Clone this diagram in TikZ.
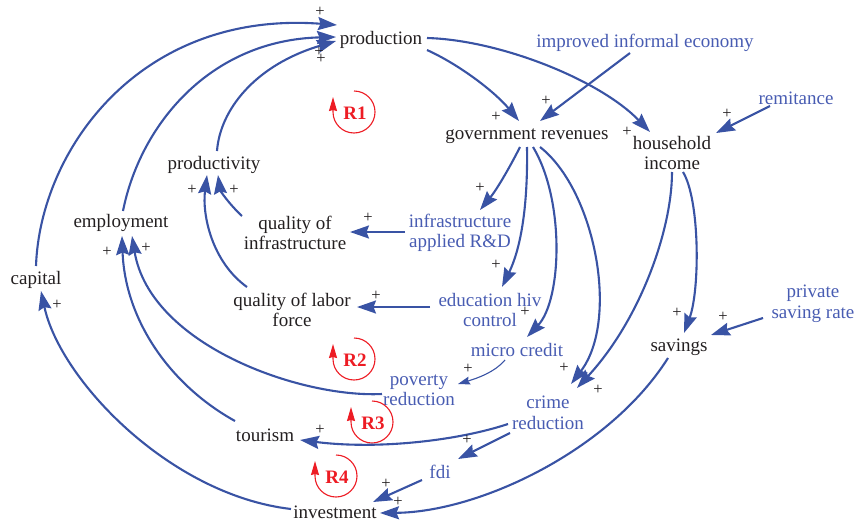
\documentclass[tikz,border=0pt]{standalone}
\usepackage{fontspec}
\setmainfont{Liberation Serif}
\usetikzlibrary{arrows.meta}
\definecolor{lineblue}{RGB}{57,83,164}
\definecolor{txtblue}{RGB}{72,92,178}
\definecolor{txtblack}{RGB}{35,31,32}
\definecolor{loopred}{RGB}{237,28,36}
\begin{document}
\begin{tikzpicture}[x=1pt,y=-1pt,
  var/.style={inner sep=0pt, align=center, font=\fontsize{19}{20.5}\selectfont, text=txtblack},
  bvar/.style={var, text=txtblue},
  pl/.style={inner sep=0pt, font=\fontsize{16.5}{16.5}\selectfont, text=txtblack},
  link/.style={draw=lineblue, line width=2.1pt, -{Stealth[length=19pt,width=13pt,inset=2.5pt]}},
  thinlink/.style={draw=lineblue, line width=1.1pt, -{Stealth[length=12pt,width=8pt,inset=1.5pt]}},
  looplbl/.style={inner sep=0pt, font=\fontsize{19}{19}\selectfont\bfseries, text=loopred},
  loopc/.style={draw=loopred, line width=1.1pt, -{Stealth[length=14pt,width=8pt,inset=1pt]}}
]
\useasboundingbox (0,0) rectangle (854,522);

% variables
\node[var]  (production)   at (381,40)  {production};
\node[bvar] (impinf)       at (645,43)  {improved informal economy};
\node[var]  (govrev)       at (527,136) {government revenues};
\node[var]  (household)    at (672,153) {household\\income};
\node[bvar] (remit)        at (796,98)  {remitance};
\node[var]  (productivity) at (214,165) {productivity};
\node[var]  (employment)   at (121,223) {employment};
\node[var]  (capital)      at (36,280)  {capital};
\node[var]  (qinfra)       at (295,233) {quality of\\infrastructure};
\node[bvar] (infraRD)      at (460,233) {infrastructure\\applied R\&D};
\node[var]  (qlabor)       at (292,310) {quality of labor\\force};
\node[bvar] (eduhiv)       at (490,310) {education hiv\\control};
\node[bvar] (micro)        at (517,350) {micro credit};
\node[bvar] (poverty)      at (419,390) {poverty\\reduction};
\node[bvar] (crime)        at (548,413) {crime\\reduction};
\node[var]  (savings)      at (679,347) {savings};
\node[bvar] (privsave)     at (813,304) {private\\saving rate};
\node[var]  (tourism)      at (265,435) {tourism};
\node[bvar] (fdi)          at (440,472) {fdi};
\node[var]  (investment)   at (335,512) {investment};

% loop labels
\node[looplbl] (R1) at (355,113) {R1};
\node[looplbl] (R2) at (355,360) {R2};
\node[looplbl] (R3) at (373,423) {R3};
\node[looplbl] (R4) at (337,477) {R4};
\foreach \r in {R1,R2,R3,R4}
  \draw[loopc] ([shift={(-1,-22)}]\r.center) arc[start angle=-90,end angle=180,radius=21] -- ++(0,-15);

% links
\draw[link] ([shift={(0,-14)}]capital.center) .. controls (40,150) and (140,10) .. ([shift={(-44,-15)}]production.center);
\draw[link] ([shift={(2,-12)}]employment.center) .. controls (140,125) and (210,40) .. ([shift={(-45,-3)}]production.center);
\draw[link] ([shift={(3,-14)}]productivity.center) .. controls (220,110) and (255,65) .. ([shift={(-45,1)}]production.center);
\draw[link] ([shift={(46,10)}]production.center) .. controls (460,65) and (495,92) .. ([shift={(-8,-15)}]govrev.center);
\draw[link] ([shift={(46,-2)}]production.center) .. controls (500,40) and (600,80) .. ([shift={(-22,-21)}]household.center);
\draw[link] ([shift={(-15,10)}]impinf.center) -- ([shift={(13,-15)}]govrev.center);
\draw[link] ([shift={(-26,8)}]remit.center) -- ([shift={(44,-20)}]household.center);
\draw[link] ([shift={(-53,-17)}]qinfra.center) .. controls (228,203) and (220,190) .. ([shift={(4,10)}]productivity.center);
\draw[link] ([shift={(-45,-23)}]qlabor.center) .. controls (212,262) and (202,215) .. ([shift={(-7,10)}]productivity.center);
\draw[link] ([shift={(-37,4)}]poverty.center) .. controls (300,398) and (150,345) .. ([shift={(11,13)}]employment.center);
\draw[link] ([shift={(-30,-14)}]tourism.center) .. controls (170,385) and (125,320) .. ([shift={(1,13)}]employment.center);
\draw[link] ([shift={(-44,-3)}]investment.center) .. controls (170,495) and (60,380) .. ([shift={(5,11)}]capital.center);
\draw[link] ([shift={(-7,11)}]govrev.center) .. controls (512,163) and (498,188) .. ([shift={(20,-23)}]infraRD.center);
\draw[link] ([shift={(0,11)}]govrev.center) .. controls (528,210) and (520,250) .. ([shift={(12,-23)}]eduhiv.center);
\draw[link] ([shift={(6,11)}]govrev.center) .. controls (565,200) and (562,300) .. ([shift={(10,-13)}]micro.center);
\draw[link] ([shift={(13,11)}]govrev.center) .. controls (595,190) and (620,320) .. ([shift={(23,-29)}]crime.center);
\draw[link] ([shift={(0,19)}]household.center) .. controls (672,230) and (640,320) .. ([shift={(29,-25)}]crime.center);
\draw[link] ([shift={(11,19)}]household.center) .. controls (700,200) and (700,290) .. ([shift={(5,-14)}]savings.center);
\draw[link] ([shift={(-50,14)}]privsave.center) -- ([shift={(32,-12)}]savings.center);
\draw[link] ([shift={(-11,11)}]savings.center) .. controls (610,450) and (480,512) .. ([shift={(45,1)}]investment.center);
\draw[link] ([shift={(-55,-1)}]infraRD.center) -- ([shift={(55,-1)}]qinfra.center);
\draw[link] ([shift={(-60,-3)}]eduhiv.center) -- ([shift={(65,-3)}]qlabor.center);
\draw[thinlink] ([shift={(-12,10)}]micro.center) .. controls (495,372) and (478,378) .. ([shift={(39,-6)}]poverty.center);
\draw[link] ([shift={(-40,11)}]crime.center) .. controls (460,440) and (380,450) .. ([shift={(35,5)}]tourism.center);
\draw[link] ([shift={(-38,20)}]crime.center) -- ([shift={(18,-13)}]fdi.center);
\draw[link] ([shift={(-18,8)}]fdi.center) -- ([shift={(38,-10)}]investment.center);

% polarity signs
\node[pl] (s1)  at (320,12)  {+};
\node[pl] (s2)  at (319,52)  {+};
\node[pl] (s3)  at (321,59)  {+};
\node[pl] (s4)  at (496,117) {+};
\node[pl] (s5)  at (546,101) {+};
\node[pl] (s6)  at (627,132) {+};
\node[pl] (s7)  at (727,114) {+};
\node[pl] (s8)  at (192,190) {+};
\node[pl] (s9)  at (234,190) {+};
\node[pl] (s10) at (107,252) {+};
\node[pl] (s11) at (146,248) {+};
\node[pl] (s12) at (57,305)  {+};
\node[pl] (s13) at (480,188) {+};
\node[pl] (s14) at (368,218) {+};
\node[pl] (s15) at (496,265) {+};
\node[pl] (s16) at (376,296) {+};
\node[pl] (s17) at (525,312) {+};
\node[pl] (s18) at (468,369) {+};
\node[pl] (s19) at (564,368) {+};
\node[pl] (s20) at (598,390) {+};
\node[pl] (s21) at (677,313) {+};
\node[pl] (s22) at (723,317) {+};
\node[pl] (s23) at (320,430) {+};
\node[pl] (s24) at (467,440) {+};
\node[pl] (s25) at (386,484) {+};
\node[pl] (s26) at (398,502) {+};
\end{tikzpicture}
\end{document}
